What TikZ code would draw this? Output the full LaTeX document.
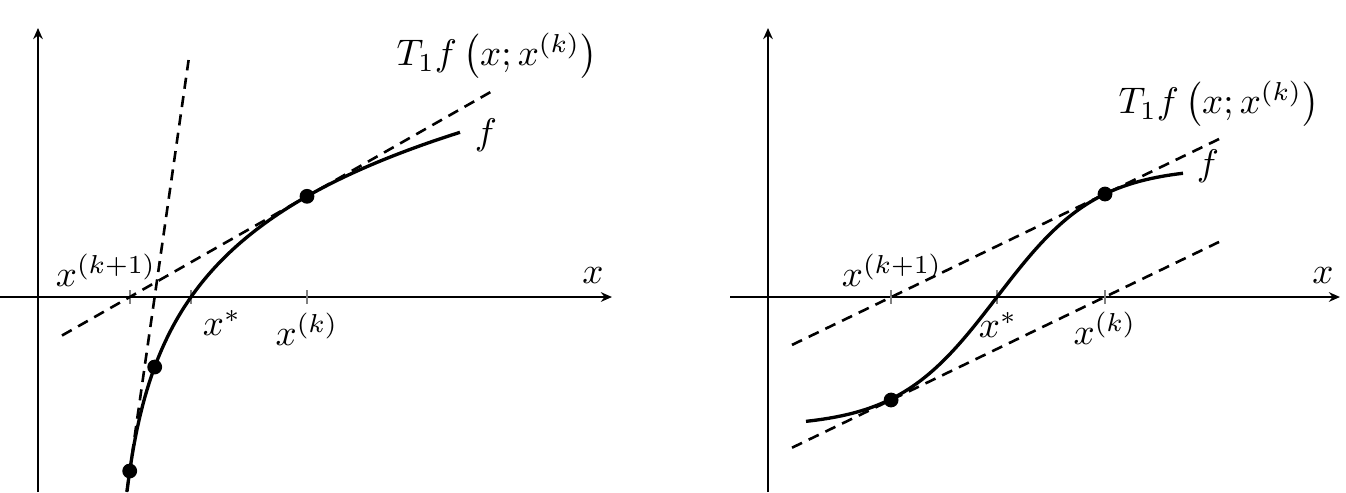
\documentclass[tikz,border=0pt]{standalone}
\usetikzlibrary{arrows.meta}
\begin{document}
\begin{tikzpicture}[x=0.27pt,y=-0.27pt,
  axis/.style={line width=0.55pt,-{Stealth[length=3pt,width=2.6pt]}},
  curve/.style={line width=0.9pt},
  tang/.style={line width=0.7pt,dash pattern=on 3pt off 2pt},
  tickmark/.style={gray,line width=0.5pt},
  dot/.style={circle,fill=black,inner sep=0pt,minimum size=4pt},
  lab/.style={inner sep=0pt}]
\useasboundingbox (0,0) rectangle (1346,492);
% ---------- left panel ----------
\coordinate (LX0) at (0,297);
\coordinate (LX1) at (612,297);
\coordinate (LY0) at (38,492);
\coordinate (LY1) at (38,28);
\draw[axis] (LX0) -- (LX1);
\draw[axis] (LY0) -- (LY1);
\foreach \t in {129.7,191,307}{
  \draw[tickmark] (\t,290) -- (\t,304);
}
\coordinate (LT1a) at (62,335.5);
\coordinate (LT1b) at (495,89.5);
\coordinate (LT2a) at (126.7,492);
\coordinate (LT2b) at (188.6,60);
\draw[tang] (LT1a) -- (LT1b);
\draw[tang] (LT2a) -- (LT2b);
\draw[curve] plot[domain=127:460,samples=200] (\x,{297-109.6*ln((\x-114)/77)});
\node[dot] (Ld0) at (307,196.3) {};
\node[dot] (Ld1) at (129.7,471) {};
\node[dot] (Ld2) at (154.7,367) {};
\node[lab] (LT) at (497,56) {$T_1 f\left(x; x^{(k)}\right)$};
\node[lab] (Lf) at (486,135) {$f$};
\node[lab] (Lx) at (593,276) {$x$};
\node[lab] (Lxk1) at (106,270) {$x^{(k+1)}$};
\node[lab] (Lxs) at (222,323) {$x^{*}$};
\node[lab] (Lxk) at (307,329) {$x^{(k)}$};
% ---------- right panel ----------
\coordinate (RX0) at (730,297);
\coordinate (RX1) at (1340,297);
\coordinate (RY0) at (768,492);
\coordinate (RY1) at (768,28);
\draw[axis] (RX0) -- (RX1);
\draw[axis] (RY0) -- (RY1);
\foreach \t in {891.1,997,1105}{
  \draw[tickmark] (\t,290) -- (\t,304);
}
\coordinate (RT1a) at (792,344.9);
\coordinate (RT1b) at (1222,137.6);
\coordinate (RT2a) at (792,447.7);
\coordinate (RT2b) at (1222,240.5);
\draw[tang] (RT1a) -- (RT1b);
\draw[tang] (RT2a) -- (RT2b);
\draw[curve] plot[domain=806:1183,samples=200] (\x,{297-129.9*tanh((\x-997)/100)});
\node[dot] (Rd0) at (1105,194) {};
\node[dot] (Rd1) at (891.1,400) {};
\node[lab] (RT) at (1219,104) {$T_1 f\left(x; x^{(k)}\right)$};
\node[lab] (Rf) at (1208,166) {$f$};
\node[lab] (Rx) at (1323,276) {$x$};
\node[lab] (Rxk1) at (892,270) {$x^{(k+1)}$};
\node[lab] (Rxs) at (998,325) {$x^{*}$};
\node[lab] (Rxk) at (1105,328) {$x^{(k)}$};
\end{tikzpicture}
\end{document}
